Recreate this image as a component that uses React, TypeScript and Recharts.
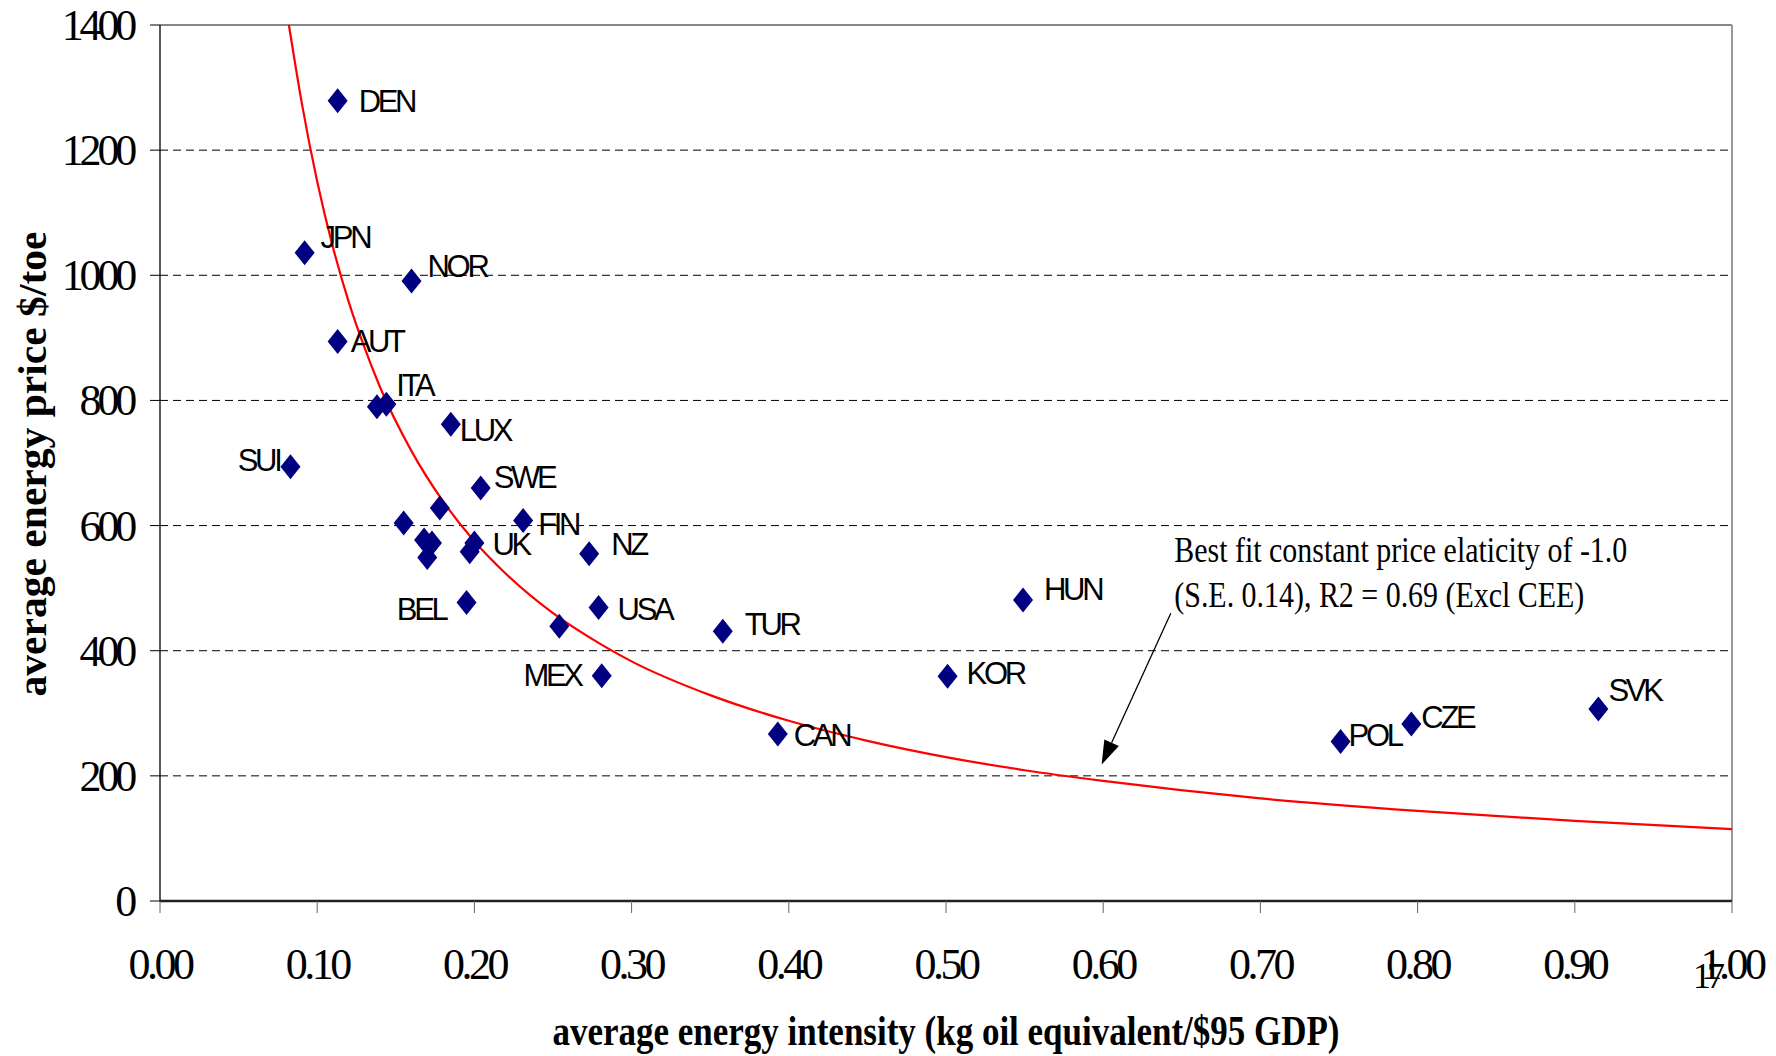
import React from "react";
import { CartesianGrid, ReferenceLine, Scatter, ScatterChart, XAxis, YAxis } from "recharts";

// countries: blank name = unlabelled point
const names = [
  "DEN", "JPN", "NOR", "AUT", "", "ITA", "LUX", "SUI", "SWE", "", "FIN", "", "", "", "",
  "UK", "", "NZ", "BEL", "USA", "", "TUR", "MEX", "CAN", "KOR", "HUN", "POL", "CZE", "SVK",
];
const intensity = [
  0.113, 0.092, 0.160, 0.113, 0.138, 0.144, 0.185, 0.083, 0.204, 0.178, 0.231, 0.155, 0.168, 0.173, 0.170,
  0.200, 0.197, 0.273, 0.195, 0.279, 0.254, 0.358, 0.281, 0.393, 0.501, 0.549, 0.751, 0.796, 0.915,
];
const price = [
  1279, 1036, 991, 894, 790, 794, 762, 694, 660, 628, 608, 604, 577, 572, 549,
  572, 558, 555, 477, 469, 439, 431, 360, 267, 359, 481, 255, 283, 307,
];

// best fit curve
const fitX = [0.082, 0.09, 0.1, 0.11, 0.12, 0.13, 0.14, 0.16, 0.18, 0.2, 0.22, 0.25, 0.28, 0.3, 0.35, 0.4, 0.45, 0.5, 0.55, 0.6, 0.7, 0.8, 0.9, 1.0];
const fitY = [1400, 1278, 1150, 1045, 958, 885, 821, 719, 639, 575, 523, 460, 411, 383, 329, 288, 256, 230, 209, 192, 164, 144, 128, 115];

const xTicks = [0, 0.1, 0.2, 0.3, 0.4, 0.5, 0.6, 0.7, 0.8, 0.9, 1.0];
const yTicks = [0, 200, 400, 600, 800, 1000, 1200, 1400];

const noteLines = ["Best fit constant price elaticity of -1.0", "(S.E. 0.14), R2 = 0.69 (Excl CEE)"];
const arrowFrom = { x: 0.643, y: 460 };
const arrowTo = { x: 0.599, y: 218 };

const points = names.map((name, i) => ({ name, x: intensity[i], y: price[i] }));
const fitCurve = fitX.map((x, i) => ({ x, y: fitY[i] }));

const SERIF = "'Liberation Serif', 'Times New Roman', serif";
const SANS = "'Liberation Sans', Arial, sans-serif";
const NAVY = "#000080";

// label placement next to each diamond: [dx, dy, anchor]
const LABEL_POS: Record<string, [number, number, "start" | "end"]> = {
  DEN: [21, 0, "start"],
  JPN: [16, -16, "start"],
  NOR: [16, -15, "start"],
  AUT: [13, -1, "start"],
  ITA: [10, -19, "start"],
  LUX: [9, 6, "start"],
  SUI: [-11, -7, "end"],
  SWE: [13, -11, "start"],
  FIN: [15, 3, "start"],
  UK: [18, 1, "start"],
  NZ: [22, -10, "start"],
  BEL: [-21, 6, "end"],
  USA: [19, 1, "start"],
  TUR: [22, -7, "start"],
  MEX: [-21, -1, "end"],
  HUN: [21, -11, "start"],
  KOR: [19, -3, "start"],
  CAN: [16, 1, "start"],
  POL: [8, -6, "start"],
  CZE: [10, -7, "start"],
  SVK: [10, -19, "start"],
};

function Diamond(props: any) {
  const { cx, cy, payload } = props;
  const w = 10;
  const h = 12.5;
  const pos = payload?.name ? LABEL_POS[payload.name] : undefined;
  return (
    <g>
      <polygon points={`${cx},${cy - h} ${cx + w},${cy} ${cx},${cy + h} ${cx - w},${cy}`} fill={NAVY} />
      {pos && (
        <text
          x={cx + pos[0]}
          y={cy + pos[1] + 11}
          textAnchor={pos[2]}
          fontFamily={SANS}
          fontSize={31}
          letterSpacing={-3.3}
          fill="#000"
        >
          {payload.name}
        </text>
      )}
    </g>
  );
}

function XTick({ x, y, payload }: any) {
  return (
    <text x={x} y={y + 64} textAnchor="middle" fontFamily={SERIF} fontSize={44} letterSpacing={-3.5} fill="#000">
      {Number(payload.value).toFixed(2)}
    </text>
  );
}

function YTick({ x, y, payload }: any) {
  return (
    <text x={x} y={y + 15} textAnchor="end" fontFamily={SERIF} fontSize={44} letterSpacing={-4.2} fill="#000">
      {payload.value}
    </text>
  );
}

function Arrow(props: any) {
  const { x1, y1, x2, y2 } = props;
  const dx = x2 - x1;
  const dy = y2 - y1;
  const len = Math.sqrt(dx * dx + dy * dy);
  const ux = dx / len;
  const uy = dy / len;
  const hl = 24;
  const hw = 8;
  const bx = x2 - ux * hl;
  const by = y2 - uy * hl;
  return (
    <g>
      <line x1={x1} y1={y1} x2={bx} y2={by} stroke="#000" strokeWidth={1.3} />
      <polygon points={`${x2},${y2} ${bx - uy * hw},${by + ux * hw} ${bx + uy * hw},${by - ux * hw}`} fill="#000" />
      <text x={x1 + 3.5} y={y1 - 51.6} fontFamily={SERIF} fontSize={36} textLength={453} lengthAdjust="spacingAndGlyphs" fill="#000">
        {noteLines[0]}
      </text>
      <text x={x1 + 3.5} y={y1 - 6.6} fontFamily={SERIF} fontSize={36} textLength={410} lengthAdjust="spacingAndGlyphs" fill="#000">
        {noteLines[1]}
      </text>
    </g>
  );
}

export default function App() {
  return (
    <div style={{ position: "absolute", left: 0, top: 0, width: 1776, height: 1056, background: "#fff" }}>
      <ScatterChart width={1776} height={1056} margin={{ top: 25, right: 44, bottom: 0, left: 0 }}>
        <CartesianGrid vertical={false} stroke="#000" strokeDasharray="8 5" />
        <XAxis
          type="number"
          dataKey="x"
          domain={[0, 1]}
          ticks={xTicks}
          height={155}
          tick={<XTick />}
          tickSize={12}
          tickMargin={2}
          tickLine={{ stroke: "#666" }}
          axisLine={{ stroke: "#222", strokeWidth: 2.5 }}
          interval={0}
        />
        <YAxis
          type="number"
          dataKey="y"
          domain={[0, 1400]}
          ticks={yTicks}
          width={160}
          tick={<YTick />}
          tickSize={10}
          tickMargin={17}
          tickLine={{ stroke: "#000" }}
          axisLine={{ stroke: "#000", strokeWidth: 1.3 }}
          interval={0}
        />
        <ReferenceLine y={1400} stroke="#888" strokeWidth={2} />
        <ReferenceLine x={1} stroke="#999" strokeWidth={2} />
        <Scatter
          data={fitCurve}
          line={{ stroke: "#ff0000", strokeWidth: 2.2 }}
          lineType="joint"
          lineJointType="monotoneX"
          shape={() => <g />}
          isAnimationActive={false}
        />
        <Scatter data={points} shape={<Diamond />} isAnimationActive={false} />
        <ReferenceLine segment={[arrowFrom, arrowTo]} shape={<Arrow />} />
      </ScatterChart>
      <svg width={1776} height={1056} style={{ position: "absolute", left: 0, top: 0, pointerEvents: "none" }}>
        <text x={946} y={1045} textAnchor="middle" fontFamily={SERIF} fontWeight="bold" fontSize={42} textLength={787} lengthAdjust="spacingAndGlyphs">
          average energy intensity (kg oil equivalent/$95 GDP)
        </text>
        <text transform="translate(46,464) rotate(-90)" textAnchor="middle" fontFamily={SERIF} fontWeight="bold" fontSize={40} textLength={465} lengthAdjust="spacingAndGlyphs">
          average energy price $/toe
        </text>
        <text x={1693} y={988} fontFamily={SERIF} fontSize={36} letterSpacing={-4}>
          17
        </text>
      </svg>
    </div>
  );
}
